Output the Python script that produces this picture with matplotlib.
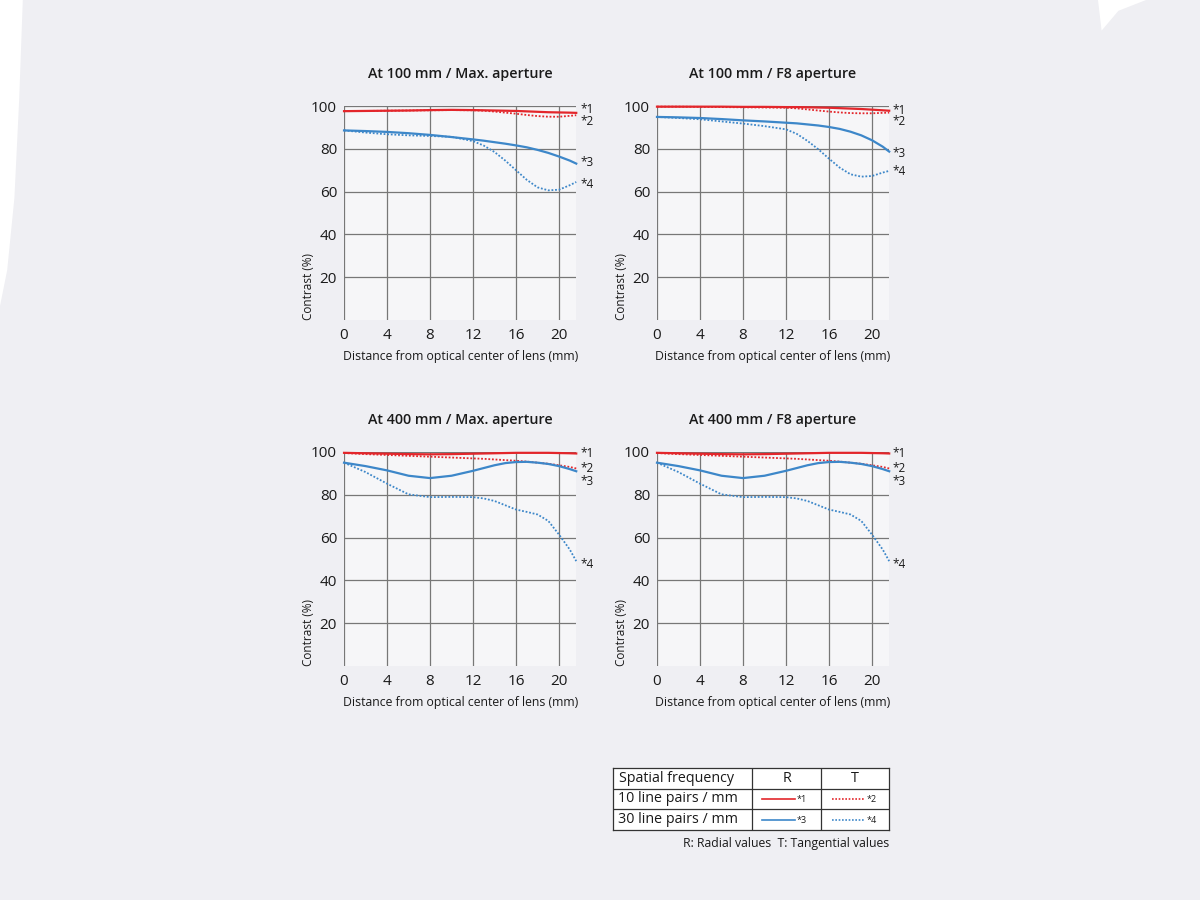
import numpy as np
from matplotlib import pyplot as plt
from matplotlib.patches import Polygon

plt.rcParams['font.family'] = ['Open Sans', 'DejaVu Sans']

# Distance from optical center (mm), shared by every curve
dist = [0, 2, 4, 6, 8, 10, 12, 13, 14, 15, 16, 17, 18, 19, 20, 21, 21.6]

# At 100 mm / Max. aperture
w_max_r10 = [97.6, 97.7, 97.8, 97.9, 98.1, 98.2, 98.1, 98.0, 97.9, 97.8, 97.7, 97.5, 97.3, 97.1, 97.0, 96.9, 96.8]
w_max_t10 = [97.6, 97.7, 97.8, 97.9, 98.0, 98.1, 98.0, 97.8, 97.4, 96.9, 96.4, 95.8, 95.3, 95.0, 95.0, 95.4, 95.7]
w_max_r30 = [88.6, 88.3, 87.9, 87.3, 86.5, 85.5, 84.4, 83.8, 83.1, 82.4, 81.6, 80.7, 79.5, 78.1, 76.4, 74.5, 73.1]
w_max_t30 = [88.6, 87.6, 86.8, 86.3, 86.0, 85.6, 83.6, 81.5, 78.5, 74.5, 70.0, 65.5, 62.0, 60.6, 60.9, 63.0, 64.5]

# At 100 mm / F8 aperture
w_f8_r10 = [99.7, 99.7, 99.7, 99.7, 99.6, 99.6, 99.5, 99.5, 99.4, 99.3, 99.2, 99.0, 98.8, 98.6, 98.3, 98.0, 97.8]
w_f8_t10 = [99.7, 99.7, 99.6, 99.5, 99.4, 99.3, 99.2, 98.9, 98.4, 97.9, 97.4, 97.0, 96.7, 96.6, 96.6, 96.8, 96.9]
w_f8_r30 = [94.9, 94.7, 94.4, 93.9, 93.3, 92.8, 92.2, 91.9, 91.4, 90.9, 90.2, 89.3, 88.0, 86.3, 84.0, 81.0, 78.7]
w_f8_t30 = [94.9, 94.4, 93.8, 92.8, 91.8, 90.6, 89.1, 87.0, 83.7, 79.8, 75.4, 71.2, 68.1, 67.0, 67.3, 68.9, 69.7]

# At 400 mm / Max. aperture
t_max_r10 = [99.6, 99.4, 99.2, 99.0, 98.9, 99.0, 99.2, 99.3, 99.4, 99.5, 99.6, 99.6, 99.6, 99.6, 99.5, 99.4, 99.3]
t_max_t10 = [99.5, 99.0, 98.6, 98.2, 97.8, 97.4, 97.0, 96.8, 96.5, 96.2, 95.9, 95.5, 95.0, 94.5, 93.8, 93.0, 92.3]
t_max_r30 = [95.0, 93.4, 91.4, 88.9, 87.8, 88.9, 91.2, 92.5, 93.8, 94.8, 95.3, 95.4, 95.0, 94.4, 93.4, 92.0, 91.0]
t_max_t30 = [95.0, 90.6, 85.2, 80.2, 78.9, 79.0, 78.9, 78.3, 77.1, 75.1, 73.1, 72.0, 70.8, 67.8, 61.4, 54.4, 49.0]

# At 400 mm / F8 aperture
t_f8_r10 = [99.6, 99.4, 99.2, 99.0, 98.9, 99.0, 99.2, 99.3, 99.4, 99.5, 99.6, 99.6, 99.6, 99.6, 99.5, 99.4, 99.3]
t_f8_t10 = [99.5, 99.0, 98.6, 98.2, 97.8, 97.4, 97.0, 96.8, 96.5, 96.2, 95.9, 95.5, 95.0, 94.5, 93.8, 93.0, 92.3]
t_f8_r30 = [95.0, 93.4, 91.4, 88.9, 87.8, 88.9, 91.2, 92.5, 93.8, 94.8, 95.3, 95.4, 95.0, 94.4, 93.4, 92.0, 91.0]
t_f8_t30 = [95.0, 90.6, 85.2, 80.2, 78.9, 79.0, 78.9, 78.3, 77.1, 75.1, 73.1, 72.0, 70.8, 67.8, 61.4, 54.4, 49.0]

titles = ['At 100 mm / Max. aperture', 'At 100 mm / F8 aperture',
          'At 400 mm / Max. aperture', 'At 400 mm / F8 aperture']
panels = [(w_max_r10, w_max_t10, w_max_r30, w_max_t30),
          (w_f8_r10, w_f8_t10, w_f8_r30, w_f8_t30),
          (t_max_r10, t_max_t10, t_max_r30, t_max_t30),
          (t_f8_r10, t_f8_t10, t_f8_r30, t_f8_t30)]
# where the *1..*4 marks sit at the right end (contrast %)
mark_levels = [(98.6, 92.6, 73.4, 63.5),
               (98.1, 92.6, 77.6, 69.2),
               (99.5, 92.5, 86.4, 47.2),
               (99.5, 92.5, 86.4, 47.2)]
mark_names = ['*1', '*2', '*3', '*4']

bg = '#efeff3'
red = '#e3262b'
blue = '#3d87c9'
grid_c = '#777777'
ink = '#1a1a1a'
styles = [dict(color=red, lw=1.6, ls='-'),
          dict(color=red, lw=1.3, ls=(0, (1, 1))),
          dict(color=blue, lw=1.6, ls='-'),
          dict(color=blue, lw=1.3, ls=(0, (1, 1)))]

fig = plt.figure(figsize=(12, 9), dpi=100, facecolor=bg)

# torn paper edges
fig.patches.append(Polygon([(0, 1), (0.019, 1), (0.016, 0.89), (0.012, 0.78),
                            (0.006, 0.70), (0, 0.66)], closed=True,
                           transform=fig.transFigure, fc='white', ec='none'))
fig.patches.append(Polygon([(0.915, 1), (0.955, 1), (0.932, 0.988), (0.918, 0.966)],
                           closed=True, transform=fig.transFigure, fc='white', ec='none'))

lefts = [0.2867, 0.5475, 0.2867, 0.5475]
bottoms = [0.6444, 0.6444, 0.26, 0.26]
for k in range(4):
    ax = fig.add_axes([lefts[k], bottoms[k], 0.1935, 0.2378])
    ax.set_facecolor('#f6f6f8')
    for s in ax.spines.values():
        s.set_visible(False)
    ax.set_xlim(0, 21.6)
    ax.set_ylim(0, 100)
    ax.set_xticks([0, 4, 8, 12, 16, 20])
    ax.set_yticks([20, 40, 60, 80, 100])
    ax.tick_params(length=0, labelsize=11, pad=5, colors=ink)
    ax.tick_params(axis='x', pad=6)
    ax.grid(True, color=grid_c, lw=0.9)
    ax.set_axisbelow(True)
    for vals, st in zip(panels[k], styles):
        ax.plot(dist, vals, clip_on=False, **st)
    for lvl, nm in zip(mark_levels[k], mark_names):
        ax.text(21.6 + 0.35, lvl, nm, fontsize=8.5, va='center', ha='left', color=ink)
    ax.set_title(titles[k], fontsize=10.3, fontweight='semibold', pad=20, color=ink)
    ax.set_xlabel('Distance from optical center of lens (mm)', fontsize=8.8,
                  labelpad=4.5, color=ink)
    ax.text(-0.155, 0, 'Contrast (%)', rotation=90, ha='center', va='bottom',
            fontsize=8.5, transform=ax.transAxes, color=ink)

# legend table
lg = fig.add_axes([613 / 1200, 1 - 830 / 900, 276 / 1200, 62 / 900])
lg.set_xlim(0, 276)
lg.set_ylim(62, 0)
lg.set_facecolor('white')
lg.set_xticks([])
lg.set_yticks([])
for s in lg.spines.values():
    s.set_color('#333333')
    s.set_linewidth(0.9)
for xv in [139, 208]:
    lg.plot([xv, xv], [0, 62], color='#333333', lw=0.9)
for yv in [20.5, 41]:
    lg.plot([0, 276], [yv, yv], color='#333333', lw=0.9)
txt = dict(fontsize=10.3, va='center', color=ink)
lg.text(6, 10.5, 'Spatial frequency', **txt)
lg.text(173.5, 10.5, 'R', ha='center', **txt)
lg.text(242, 10.5, 'T', ha='center', **txt)
lg.text(5, 31, '10 line pairs / mm', **txt)
lg.text(5, 51.5, '30 line pairs / mm', **txt)
for (st, nm), (x0, yy) in zip(zip(styles, mark_names), [(149, 31), (219, 31), (149, 51.5), (219, 51.5)]):
    lg.plot([x0, x0 + 33], [yy, yy], color=st['color'], ls=st['ls'], lw=1.2)
    lg.text(x0 + 35, yy + 1, nm, fontsize=6.5, va='center', color=ink)

fig.text(889 / 1200, 1 - 844 / 900, 'R: Radial values  T: Tangential values',
         ha='right', va='center', fontsize=8.8, color=ink)

fig.savefig('out.png', dpi=100, facecolor=bg)
